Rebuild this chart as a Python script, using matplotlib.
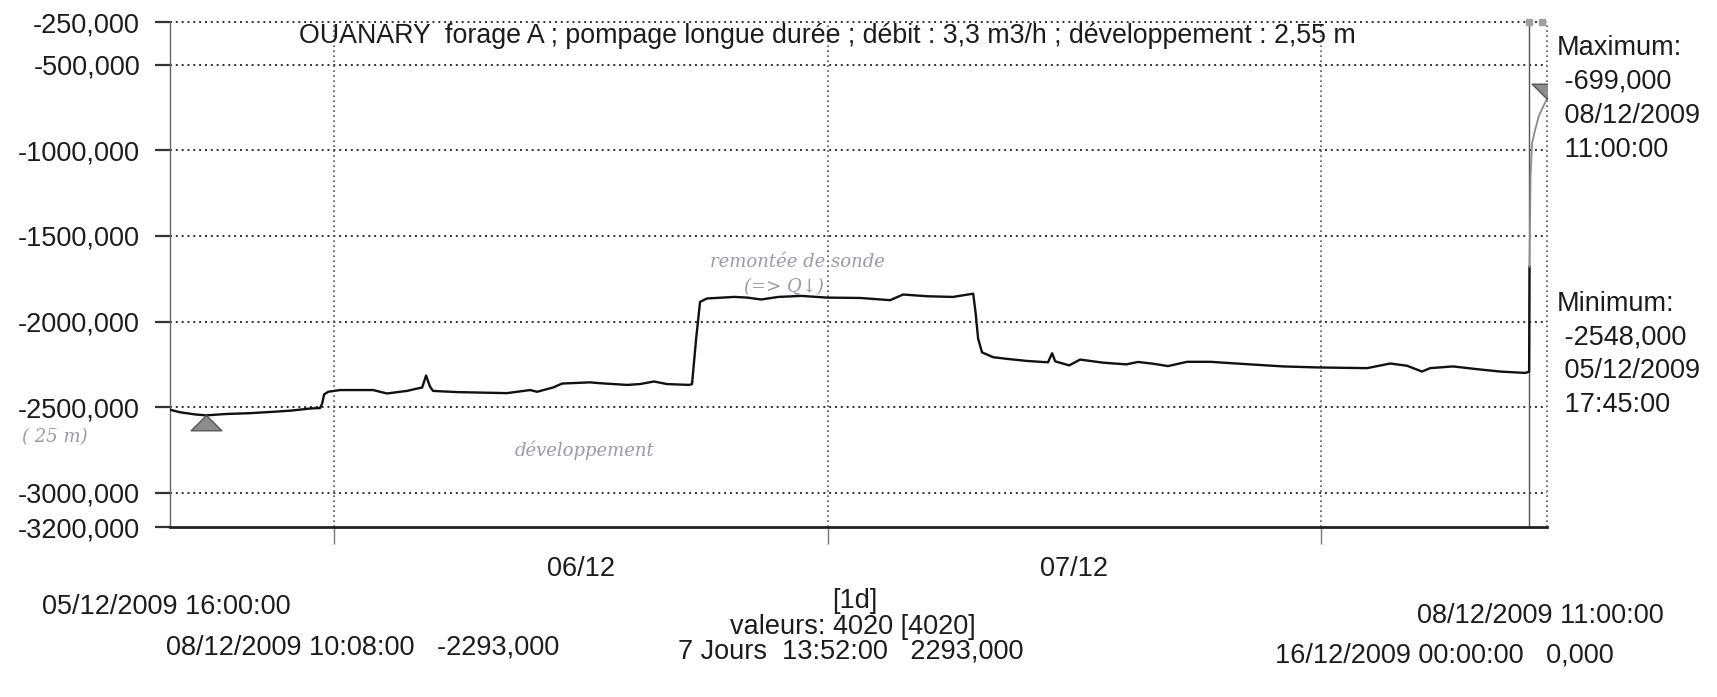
"""Data-logger printout: OUANARY forage A, long-duration pumping test."""

import matplotlib

matplotlib.use("Agg")
import matplotlib.dates as mdates
import matplotlib.pyplot as plt
import matplotlib.ticker as mticker
import pandas as pd
from matplotlib.path import Path


START = pd.Timestamp("2009-12-05 16:00")
END = pd.Timestamp("2009-12-08 11:00")
CURSOR = pd.Timestamp("2009-12-08 10:08")

hours = [
    0.0, 0.5, 1.2, 1.75, 2.7, 3.9, 4.9, 5.9, 6.8, 7.3,
    7.4, 7.5, 7.7, 8.27, 9.88, 10.56, 11.53, 12.07, 12.27, 12.46,
    12.65, 12.8, 13.97, 16.4, 17.52, 17.86, 18.64, 19.08, 20.44, 20.92,
    22.24, 22.87, 23.55, 24.18, 25.26, 25.4, 25.6, 25.79, 26.13, 27.45,
    28.1, 28.76, 29.6, 30.71, 31.97, 33.58, 35.04, 35.67, 36.84, 38.1,
    38.93, 39.08, 39.2, 39.32, 39.51, 40.05, 40.73, 41.7, 42.72, 42.92,
    43.07, 43.75, 44.28, 45.4, 46.52, 47.1, 47.83, 48.56, 49.49, 50.61,
    52.55, 54.16, 55.86, 58.25, 59.37, 60.19, 60.92, 61.31, 62.43, 63.6,
    64.72, 65.94, 66.13, 66.15, 66.2, 66.27, 66.4, 66.6, 66.85, 67.0,
]
level = [
    -2515, -2530, -2542, -2548, -2540, -2535, -2528, -2520, -2508, -2505,
    -2480, -2425, -2410, -2400, -2400, -2420, -2405, -2390, -2385, -2315,
    -2380, -2405, -2412, -2418, -2400, -2410, -2385, -2362, -2355, -2360,
    -2370, -2365, -2350, -2365, -2370, -2365, -2100, -1885, -1865, -1856,
    -1860, -1871, -1856, -1850, -1860, -1862, -1875, -1842, -1852, -1856,
    -1840, -1837, -1950, -2100, -2180, -2208, -2218, -2230, -2238, -2185,
    -2232, -2256, -2222, -2240, -2250, -2236, -2246, -2260, -2235, -2235,
    -2250, -2262, -2268, -2272, -2245, -2258, -2292, -2272, -2262, -2278,
    -2292, -2300, -2293, -1680, -1150, -960, -890, -800, -735, -699,
]

min_time, min_value = pd.Timestamp("2009-12-05 17:45"), -2548
max_time, max_value = pd.Timestamp("2009-12-08 11:00"), -699

y_ticks = [-250, -500, -1000, -1500, -2000, -2500, -3000, -3200]

TITLE = (
    "OUANARY  forage A ; pompage longue durée ; débit : 3,3 m3/h ; "
    "développement : 2,55 m"
)
max_lines = ["Maximum:", " -699,000", " 08/12/2009", " 11:00:00"]
min_lines = ["Minimum:", " -2548,000", " 05/12/2009", " 17:45:00"]

W, H = 1717, 697
INK = "#1c1c1c"
FS = 19.5


def px(x, y):
    """Figure coords from pixel position measured from the top-left."""
    return x / W, 1 - y / H


def main():
    plt.rcParams["font.family"] = ["Liberation Sans", "DejaVu Sans"]

    times = START + pd.to_timedelta(hours, unit="h")
    split = next(i for i, h in enumerate(hours) if h >= 66.15)

    fig = plt.figure(figsize=(W / 100, H / 100), dpi=100)
    ax = fig.add_axes([170 / W, 1 - 527 / H, (1547 - 170) / W, (527 - 22) / H])

    ax.set_xlim(START, END)
    ax.set_ylim(-3200, -250)

    dots = dict(color="#303030", lw=1.4, ls=(0, (1, 2)), zorder=1, clip_on=False)
    for v in y_ticks[:-1]:
        ax.axhline(v, **dots)
    for day in pd.date_range("2009-12-06", "2009-12-08", freq="D"):
        ax.axvline(day, **{**dots, "color": "#555555", "lw": 1.2})
    ax.axvline(END, **{**dots, "color": "#555555", "lw": 1.2})

    # data trace, the part after the cursor drawn lighter
    ax.plot(times[: split + 1], level[: split + 1], color="#111111", lw=1.7, zorder=3)
    ax.plot(times[split:], level[split:], color="#8a8a8a", lw=1.3, zorder=3)

    # cursor
    ax.axvline(CURSOR, color="#555555", lw=1.0, zorder=2)
    ax.plot(
        [CURSOR, CURSOR + pd.Timedelta(minutes=38)], [-250, -250],
        ls="none", marker="s", ms=4.5, color="#a0a0a0", clip_on=False, zorder=4,
    )

    up = Path([(0, 0), (-1, -1), (1, -1), (0, 0)])
    down = Path([(0, 0), (-1, 1), (1, 1), (0, 0)])
    ax.plot(min_time, min_value, marker=up, ms=22, color="#8c8c8c",
            mec="#555555", mew=1.0, zorder=5)
    ax.plot(max_time, max_value, marker=down, ms=22, color="#8c8c8c",
            mec="#555555", mew=1.0, zorder=5)

    # axes styling
    for side in ("top", "right"):
        ax.spines[side].set_visible(False)
    ax.spines["left"].set_color("#666666")
    ax.spines["left"].set_linewidth(1.0)
    ax.spines["bottom"].set_color("#222222")
    ax.spines["bottom"].set_linewidth(2.0)

    ax.set_yticks(y_ticks)
    ax.yaxis.set_major_formatter(
        mticker.FuncFormatter(lambda v, _: f"{v:.3f}".replace(".", ","))
    )
    ax.tick_params(axis="y", direction="out", length=10.8, width=1.6,
                   color="#333333", pad=10.8, labelsize=FS, labelcolor=INK)

    ax.xaxis.set_major_locator(mdates.DayLocator())
    ax.xaxis.set_major_formatter(mticker.NullFormatter())
    ax.xaxis.set_minor_locator(mdates.HourLocator(byhour=12))
    ax.xaxis.set_minor_formatter(mdates.DateFormatter("%d/%m"))
    ax.tick_params(axis="x", which="major", direction="out", length=12,
                   width=1.0, color="#777777")
    ax.tick_params(axis="x", which="minor", length=0, pad=21,
                   labelsize=FS, labelcolor=INK)

    # printed texts
    fig.text(*px(299, 36), TITLE, fontsize=19.3, color=INK, va="center")
    for i, line in enumerate(max_lines):
        fig.text(*px(1557, 48 + 34 * i), line, fontsize=FS, color=INK, va="center")
    for i, line in enumerate(min_lines):
        fig.text(*px(1557, 304 + 33.5 * i), line, fontsize=FS, color=INK, va="center")

    bottom = [
        (42, 607, "05/12/2009 16:00:00", "left"),
        (855, 601, "[1d]", "center"),
        (1417, 616, "08/12/2009 11:00:00", "left"),
        (853, 627, "valeurs: 4020 [4020]", "center"),
        (166, 647, "08/12/2009 10:08:00   -2293,000", "left"),
        (678, 652, "7 Jours  13:52:00   2293,000", "left"),
        (1275, 656, "16/12/2009 00:00:00   0,000", "left"),
    ]
    for x, y, text, ha in bottom:
        fig.text(*px(x, y), text, fontsize=FS, color=INK, ha=ha, va="center")

    # pencil notes on the printout
    pencil = dict(fontsize=13, color="#9a9aa6", style="italic",
                  family="DejaVu Serif", va="center")
    fig.text(*px(710, 262), "remontée de sonde", **pencil)
    fig.text(*px(744, 287), "(=> Q↓)", **pencil)
    fig.text(*px(515, 450), "développement", **pencil)
    fig.text(*px(22, 437), "( 25 m)", **pencil)

    fig.savefig("out.png", dpi=100, facecolor="white")
    plt.close(fig)


if __name__ == "__main__":
    main()
